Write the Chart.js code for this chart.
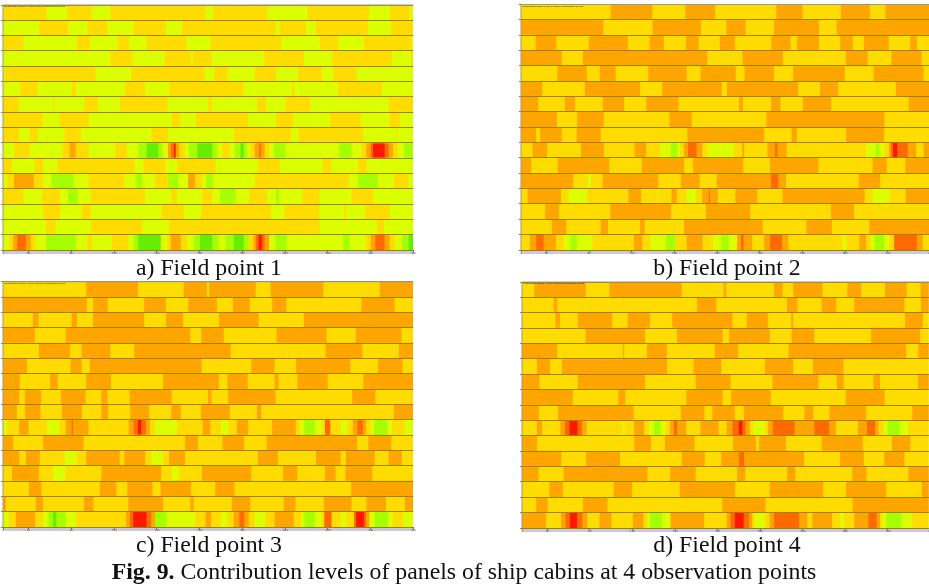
<!DOCTYPE html>
<html>
<head>
<meta charset="utf-8">
<title>Fig. 9</title>
<script src="https://cdn.jsdelivr.net/npm/chart.js@4.4.4/dist/chart.umd.min.js"></script>
<style>
  html, body { margin: 0; padding: 0; background: #fff; }
  body { position: relative; width: 929px; height: 587px; overflow: hidden; font-family: "Liberation Serif", serif; color: #111; }
  .panel { position: absolute; filter: blur(0.5px); }
  .cap { position: absolute; font-size: 23.8px; line-height: 24px; white-space: nowrap; text-align: center; }
  #cap-a { left: 109px; width: 200px; top: 255px; }
  #cap-b { left: 627px; width: 200px; top: 255px; }
  #cap-c { left: 109px; width: 200px; top: 532px; }
  #cap-d { left: 627px; width: 200px; top: 532px; }
  #fig { left: 64px; width: 800px; top: 559px; }
</style>
</head>
<body>
<canvas class="panel" id="fp1" width="416" height="254" style="left:0;top:0"></canvas>
<canvas class="panel" id="fp2" width="415" height="254" style="left:518px;top:0"></canvas>
<canvas class="panel" id="fp3" width="416" height="253" style="left:0;top:278px"></canvas>
<canvas class="panel" id="fp4" width="414" height="254" style="left:519px;top:278px"></canvas>
<div class="cap" id="cap-a"></div>
<div class="cap" id="cap-b"></div>
<div class="cap" id="cap-c"></div>
<div class="cap" id="cap-d"></div>
<div class="cap" id="fig"><b>Fig. 9.</b> <span id="fig-text"></span></div>

<script>
/* contribution levels, low to high */
const G = 0, A = 1, L = 2, Y = 3, O = 4, D = 5, R = 6;
const levelColors = ["#66ee00", "#a5ff00", "#dcff00", "#ffdc00", "#ffa500", "#ff6a00", "#ff1800"];

const rowLabels = ["1","2","3","4","5","6","7","8","9","10","11","12","13","14","15","16"];
const tickBins = [0, 77, 206, 335, 464, 593, 722, 851, 980, 1109, 1238];
const tickLabels = ["0","30","80","130","180","230","280","330","380","430","480"];
const captions = ["a) Field point 1", "b) Field point 2", "c) Field point 3", "d) Field point 4"];
const figText = "Contribution levels of panels of ship cabins at 4 observation points";
const graphTitle = "Contribution Graph 1 Panel Source Contribution Report";

/* each row: level, end bin, level, end bin ... */
const field1 = [
  [Y,141, L,202, Y,276, L,333, Y,620, L,643, Y,807, L,927, Y,1113, L,1176, Y,1236, L,1247],
  [L,118, Y,205, L,264, Y,324, L,403, Y,500, L,549, Y,832, L,843, Y,923, L,952, Y,1110, L,1180, Y,1247],
  [Y,71, L,232, Y,272, L,355, Y,389, L,442, Y,563, L,635, Y,849, L,965, Y,1020, L,1097, Y,1240, L,1247],
  [L,333, Y,399, L,497, Y,576, L,581, Y,639, L,797, Y,917, L,1002, Y,1183, L,1240, Y,1247],
  [L,14, Y,289, L,395, Y,617, L,646, Y,687, L,769, Y,833, L,898, Y,971, L,1005, Y,1076, L,1247],
  [L,60, Y,114, L,216, Y,229, L,377, Y,438, L,510, Y,735, L,881, Y,888, L,1019, Y,1152, L,1247],
  [Y,57, L,161, Y,165, L,254, Y,296, L,361, Y,505, L,628, Y,639, L,775, Y,803, L,861, Y,936, L,1172, Y,1247],
  [Y,129, L,180, Y,268, L,519, Y,544, L,591, Y,748, L,832, Y,884, L,996, Y,1090, L,1175, Y,1207, L,1247],
  [Y,58, L,89, Y,114, L,195, Y,245, L,457, Y,507, L,706, Y,878, L,900, Y,1096, L,1194, Y,1197, L,1247],
  [L,43, Y,90, L,188, Y,210, O,228, Y,268, L,347, Y,383, L,417, A,442, G,478, A,490, L,506, O,516, D,525, R,530, O,540, Y,558, L,570, A,595, G,640, A,655, L,670, Y,692, L,708, A,725, G,735, A,745, L,755, Y,768, O,782, D,787, O,798, Y,812, L,826, A,861, L,1023, A,1060, L,1090, Y,1105, O,1118, D,1125, R,1160, D,1172, O,1185, Y,1200, L,1218, A,1247],
  [Y,37, L,104, Y,131, L,173, Y,407, L,433, Y,499, L,534, Y,651, L,778, Y,844, L,973, Y,1000, L,1079, Y,1106, L,1247],
  [L,22, Y,42, O,102, Y,131, L,155, A,222, L,267, Y,375, L,411, A,429, L,467, Y,508, A,538, L,567, O,588, Y,610, L,622, A,642, L,768, Y,1052, L,1080, A,1140, L,1188, Y,1232, L,1247],
  [Y,71, L,126, Y,181, L,205, A,234, L,274, Y,438, L,516, Y,534, L,610, Y,640, L,664, A,711, L,751, Y,805, L,832, A,842, L,912, Y,964, L,1060, Y,1125, L,1247],
  [L,131, Y,182, L,246, Y,275, L,487, Y,555, L,606, Y,818, L,857, Y,963, L,1037, Y,1043, L,1100, Y,1175, L,1247],
  [L,138, Y,168, L,275, Y,429, L,510, Y,964, L,1137, Y,1158, L,1247],
  [L,28, Y,40, O,52, D,78, O,93, Y,108, L,139, A,228, L,264, Y,278, L,337, Y,387, L,403, A,417, G,485, L,505, Y,515, O,545, Y,565, L,585, A,603, G,640, A,660, L,680, A,705, G,735, A,750, Y,765, O,772, D,780, R,790, D,798, O,812, L,830, A,865, L,1035, A,1055, L,1105, Y,1118, O,1132, D,1160, O,1175, Y,1192, L,1212, A,1232, G,1247]
];

const field2 = [
  [Y,288, O,414, Y,514, O,604, Y,789, O,868, Y,984, O,1072, Y,1119, O,1254],
  [O,266, Y,415, O,561, Y,638, O,696, Y,782, O,918, Y,971, O,1254],
  [Y,61, O,124, Y,222, O,340, Y,406, O,449, Y,516, O,554, Y,618, O,664, Y,774, O,832, Y,852, O,918, Y,982, O,1020, Y,1054, O,1129, Y,1194, O,1214, Y,1254],
  [O,140, Y,204, O,580, Y,687, O,809, Y,999, O,1065, Y,1137, O,1228, Y,1254],
  [Y,127, O,216, Y,255, O,303, Y,402, O,518, Y,560, O,666, Y,693, O,782, Y,840, O,996, Y,1083, O,1234, Y,1254],
  [O,81, Y,210, O,377, Y,444, O,624, Y,640, O,855, Y,921, O,976, Y,1150, O,1254],
  [O,69, Y,150, O,180, Y,264, O,329, Y,396, O,493, Y,676, O,688, Y,773, O,802, Y,869, O,955, Y,1189, O,1254],
  [O,126, Y,187, O,267, Y,466, O,533, Y,759, O,1116, Y,1254],
  [O,63, Y,75, O,140, Y,185, O,258, Y,520, O,752, Y,835, O,851, Y,1000, O,1115, Y,1254],
  [Y,52, O,96, Y,198, O,268, Y,360, O,395, Y,438, L,470, A,490, L,498, Y,510, O,522, D,548, O,565, Y,582, L,660, Y,686, O,692, Y,762, O,785, D,792, O,820, Y,1060, L,1090, A,1100, L,1115, Y,1130, O,1135, D,1142, R,1155, D,1186, O,1212, Y,1234, O,1254],
  [O,48, Y,128, O,284, Y,382, O,510, Y,537, O,689, Y,770, O,916, Y,1080, O,1123, Y,1179, O,1254],
  [O,175, Y,219, L,228, Y,264, O,432, Y,500, O,557, Y,609, O,773, D,795, O,818, Y,1038, O,1103, Y,1254],
  [Y,37, O,138, Y,161, L,216, Y,342, O,380, Y,430, L,432, Y,472, O,488, Y,518, L,545, Y,565, O,585, D,588, O,612, Y,665, O,732, Y,808, O,1056, Y,1080, L,1132, Y,1180, O,1254],
  [Y,90, O,132, Y,287, O,471, Y,576, O,710, Y,954, O,1024, Y,1254],
  [Y,110, O,154, Y,258, O,280, Y,377, O,391, Y,510, O,748, Y,880, O,957, Y,1070, O,1254],
  [Y,44, O,63, D,85, O,123, Y,147, L,167, A,186, L,233, Y,358, O,384, Y,408, L,455, A,485, Y,518, O,566, Y,598, L,622, A,645, L,670, O,682, D,690, O,716, Y,752, O,770, D,806, O,825, Y,990, L,1000, Y,1040, O,1060, Y,1075, L,1085, A,1115, L,1130, Y,1145, D,1214, O,1232, Y,1254]
];

const field3 = [
  [Y,260, O,416, Y,554, O,624, Y,631, O,771, Y,816, O,975, Y,1145, O,1247],
  [O,262, Y,281, O,325, Y,435, O,500, Y,568, O,654, Y,702, O,753, Y,821, O,864, Y,1090, O,1190, Y,1247],
  [Y,99, O,116, Y,216, O,232, Y,280, O,435, Y,501, O,552, Y,660, O,780, Y,916, O,1247],
  [O,105, Y,198, O,574, Y,607, O,675, Y,834, O,985, Y,1073, O,1211, Y,1247],
  [Y,117, O,211, Y,246, O,333, Y,405, O,696, Y,982, O,1093, Y,1203, O,1247],
  [O,81, Y,213, O,246, Y,271, O,608, Y,758, O,828, Y,893, O,1057, Y,1140, O,1214, Y,1247],
  [O,60, Y,151, O,174, Y,260, O,335, Y,492, O,660, Y,686, O,747, Y,828, O,840, Y,897, O,988, Y,1096, O,1247],
  [O,58, Y,75, O,124, Y,184, O,258, Y,306, O,324, Y,391, O,518, Y,627, O,638, Y,688, O,831, Y,1062, O,1132, Y,1247],
  [O,51, Y,75, O,122, Y,187, O,247, Y,306, O,326, Y,393, O,450, Y,517, O,545, Y,606, O,693, Y,775, O,788, Y,1188, O,1247],
  [L,22, Y,58, O,86, Y,142, L,178, Y,198, O,216, D,220, O,267, Y,388, O,403, D,416, R,426, D,440, O,452, Y,468, L,534, Y,611, O,634, Y,667, L,688, Y,714, O,749, Y,821, O,892, Y,905, L,918, A,950, L,972, Y,980, D,996, Y,1028, L,1048, Y,1064, O,1078, D,1094, O,1104, Y,1118, L,1128, A,1168, L,1182, Y,1220, L,1247],
  [O,40, Y,130, O,252, Y,558, O,597, Y,671, O,736, Y,804, O,1077, Y,1111, O,1180, Y,1247],
  [O,58, Y,78, O,120, Y,195, L,231, Y,260, O,361, Y,375, O,438, Y,457, L,491, Y,510, O,558, Y,778, O,838, Y,953, O,1027, Y,1043, O,1130, Y,1172, O,1212, Y,1247],
  [Y,36, O,117, Y,161, L,197, Y,306, O,486, Y,519, L,539, Y,609, O,758, Y,854, O,897, Y,980, O,1012, Y,1042, O,1123, Y,1247],
  [Y,87, O,125, Y,301, O,351, Y,384, O,460, Y,484, O,576, Y,649, O,707, Y,1059, O,1247],
  [O,18, Y,108, O,130, Y,253, O,282, Y,387, O,492, Y,574, O,584, Y,699, O,755, Y,855, O,891, Y,977, O,1060, Y,1105, O,1164, Y,1221, O,1247],
  [L,26, Y,48, O,106, Y,130, L,146, A,160, G,170, A,198, L,230, Y,380, O,392, D,402, R,442, D,456, O,468, A,502, L,588, Y,620, O,636, Y,666, L,686, Y,705, O,722, D,737, O,750, Y,768, L,800, Y,828, O,886, Y,908, L,918, A,950, L,970, Y,978, D,1000, Y,1028, L,1045, Y,1068, D,1074, R,1098, D,1104, O,1114, L,1130, A,1170, L,1184, Y,1216, L,1247]
];

const field4 = [
  [Y,57, O,213, Y,285, O,504, Y,631, O,639, Y,784, O,810, Y,842, O,931, Y,1006, O,1048, Y,1120, O,1186, Y,1228, O,1254],
  [Y,116, O,127, Y,550, O,609, Y,823, O,855, Y,928, O,972, Y,1027, O,1179, Y,1229, O,1254],
  [Y,121, O,135, Y,189, O,293, Y,340, O,408, Y,475, O,658, Y,701, O,765, Y,836, O,842, Y,1181, O,1235, Y,1254],
  [Y,213, O,393, Y,490, O,628, Y,648, O,771, Y,837, O,906, Y,1078, O,1227, Y,1254],
  [O,127, Y,326, O,330, Y,399, O,459, Y,604, O,675, Y,828, O,1184, Y,1221, O,1254],
  [Y,65, O,105, Y,141, O,460, Y,540, O,624, Y,756, O,842, Y,902, O,994, Y,1254],
  [O,73, Y,189, O,393, Y,546, O,652, Y,779, O,918, Y,974, O,995, Y,1085, O,1105, Y,1220, O,1254],
  [O,174, Y,312, O,333, Y,518, O,628, Y,654, O,774, Y,1001, O,1119, Y,1254],
  [O,71, Y,129, O,358, Y,501, O,573, Y,597, O,665, Y,692, O,812, Y,876, O,903, Y,952, O,1063, Y,1203, O,1254],
  [Y,65, O,81, Y,136, O,150, D,164, R,188, D,201, O,216, Y,325, L,331, Y,360, O,390, Y,405, L,420, A,440, L,455, Y,468, O,480, D,490, O,518, Y,561, O,616, Y,640, O,658, D,677, R,688, D,698, O,710, Y,722, L,755, Y,766, O,780, D,846, O,906, D,951, O,972, Y,1038, O,1065, D,1090, O,1100, Y,1118, L,1128, A,1165, L,1190, Y,1254],
  [O,66, Y,360, O,411, Y,453, O,543, Y,660, O,729, Y,739, O,820, Y,928, O,1053, Y,1141, O,1197, Y,1254],
  [O,139, Y,214, O,317, Y,504, O,574, Y,624, O,678, D,693, O,875, Y,984, O,1056, Y,1118, O,1179, Y,1254],
  [O,70, Y,146, O,400, Y,469, O,546, Y,672, O,697, Y,824, O,848, Y,1021, O,1064, Y,1191, O,1254],
  [Y,103, O,144, Y,298, O,354, Y,498, O,666, Y,771, O,933, Y,1002, O,1124, Y,1232, O,1254],
  [Y,63, O,98, Y,205, O,279, Y,627, O,758, Y,1022, O,1254],
  [O,93, Y,138, O,152, D,165, R,187, D,203, O,218, Y,255, O,291, Y,356, O,388, Y,400, L,408, A,445, L,470, O,572, Y,640, O,652, D,665, R,692, D,708, O,718, Y,725, L,755, Y,770, O,784, D,860, O,885, Y,900, O,960, Y,985, L,996, Y,1027, O,1070, D,1095, O,1105, Y,1112, L,1125, A,1170, L,1203, Y,1254]
];

/* ── Captions ─────────────────────────────────────────────────────── */
["cap-a", "cap-b", "cap-c", "cap-d"].forEach((id, i) => {
  document.getElementById(id).textContent = captions[i];
});
document.getElementById("fig-text").textContent = figText;

/* ── Panels ───────────────────────────────────────────────────────── */
const frame = {
  id: "frame",
  beforeDraw(chart) {
    const { ctx, chartArea: a } = chart;
    ctx.save();
    ctx.fillStyle = "#c9c9e2";
    ctx.fillRect(a.left, a.bottom, a.right - a.left, chart.height - a.bottom);
    ctx.restore();
  },
  afterDraw(chart) {
    const { ctx, chartArea: a } = chart;
    ctx.save();
    ctx.strokeStyle = "#9a9a80";
    ctx.lineWidth = 1;
    ctx.beginPath();
    ctx.moveTo(a.left, a.bottom);
    ctx.lineTo(a.left, a.top);
    ctx.lineTo(a.right, a.top);
    ctx.stroke();
    ctx.font = "2.5px 'Liberation Sans'";
    ctx.fillStyle = "#222";
    ctx.textBaseline = "top";
    ctx.fillText(graphTitle, a.left + 1, a.top + 0.5);
    ctx.restore();
  }
};

function drawPanel(id, rows, xMin, xMax, padTop) {
  const count = Math.max(...rows.map(r => r.length / 2));
  const datasets = [];
  for (let s = 0; s < count; s++) {
    datasets.push({
      data: rows.map(r => {
        if (s * 2 >= r.length) return null;
        const start = s === 0 ? xMin : r[s * 2 - 1];
        return [start, r[s * 2 + 1]];
      }),
      backgroundColor: rows.map(r => levelColors[r[s * 2]]),
      borderWidth: 0,
      grouped: false,
      barPercentage: 1,
      categoryPercentage: 1
    });
  }
  new Chart(document.getElementById(id), {
    type: "bar",
    data: { labels: rowLabels, datasets },
    plugins: [frame],
    options: {
      indexAxis: "y",
      responsive: false,
      animation: false,
      layout: { padding: { top: padTop, left: 0, right: 0, bottom: 0 } },
      plugins: { legend: { display: false }, tooltip: { enabled: false }, title: { display: false } },
      scales: {
        x: {
          type: "linear",
          min: xMin,
          max: xMax,
          afterBuildTicks: axis => { axis.ticks = tickBins.map(b => ({ value: xMin + b })); },
          afterFit: axis => { axis.height = 4; },
          border: { display: false },
          grid: { drawOnChartArea: false, drawTicks: true, tickLength: 2, color: "#666" },
          ticks: {
            autoSkip: false,
            maxRotation: 0,
            padding: 0,
            color: "#333",
            font: { size: 3, family: "Liberation Sans" },
            callback: (v, i) => tickLabels[i]
          }
        },
        y: {
          afterFit: axis => { axis.width = 3; },
          border: { display: false },
          grid: { z: 1, color: "#9c8400", lineWidth: 1, tickLength: 2 },
          ticks: { display: false }
        }
      }
    }
  });
}

drawPanel("fp1", field1, 10, 1247, 5);
drawPanel("fp2", field2, 18, 1254, 4.5);
drawPanel("fp3", field3, 10, 1247, 3.7);
drawPanel("fp4", field4, 21, 1254, 4);
</script>
</body>
</html>
